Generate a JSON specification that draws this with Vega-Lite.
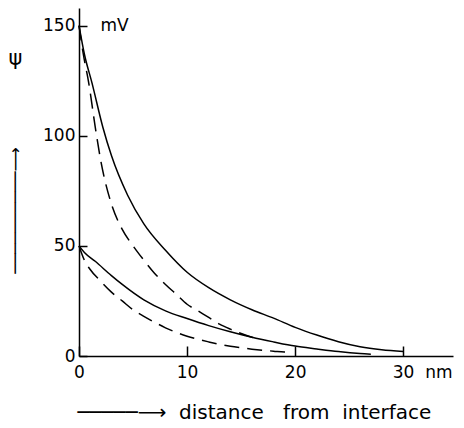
{
  "$schema": "https://vega.github.io/schema/vega-lite/v6.json",
  "width": 374,
  "height": 348,
  "autosize": "none",
  "padding": {"left": 79, "top": 8, "right": 11, "bottom": 72},
  "config": {"view": {"stroke": null}, "font": "DejaVu Sans"},
  "data": {"values": [
    {"curve": "S150", "style": "solid", "x": 0, "psi": 150},
    {"curve": "S150", "style": "solid", "x": 0.5, "psi": 137},
    {"curve": "S150", "style": "solid", "x": 1.2, "psi": 124},
    {"curve": "S150", "style": "solid", "x": 2.2, "psi": 104},
    {"curve": "S150", "style": "solid", "x": 3, "psi": 91},
    {"curve": "S150", "style": "solid", "x": 4.5, "psi": 73},
    {"curve": "S150", "style": "solid", "x": 6, "psi": 60},
    {"curve": "S150", "style": "solid", "x": 8, "psi": 48},
    {"curve": "S150", "style": "solid", "x": 10, "psi": 38},
    {"curve": "S150", "style": "solid", "x": 12, "psi": 31},
    {"curve": "S150", "style": "solid", "x": 14, "psi": 25.5},
    {"curve": "S150", "style": "solid", "x": 16, "psi": 21},
    {"curve": "S150", "style": "solid", "x": 18, "psi": 17.2},
    {"curve": "S150", "style": "solid", "x": 20, "psi": 13},
    {"curve": "S150", "style": "solid", "x": 22, "psi": 9.5},
    {"curve": "S150", "style": "solid", "x": 24, "psi": 6.5},
    {"curve": "S150", "style": "solid", "x": 26, "psi": 4.2},
    {"curve": "S150", "style": "solid", "x": 28, "psi": 2.8},
    {"curve": "S150", "style": "solid", "x": 30, "psi": 2.0},
    {"curve": "S50", "style": "solid", "x": 0, "psi": 50},
    {"curve": "S50", "style": "solid", "x": 0.5, "psi": 47},
    {"curve": "S50", "style": "solid", "x": 1.5, "psi": 43},
    {"curve": "S50", "style": "solid", "x": 3, "psi": 36.5},
    {"curve": "S50", "style": "solid", "x": 4, "psi": 32.5},
    {"curve": "S50", "style": "solid", "x": 6, "psi": 25.5},
    {"curve": "S50", "style": "solid", "x": 8, "psi": 20.5},
    {"curve": "S50", "style": "solid", "x": 10, "psi": 17},
    {"curve": "S50", "style": "solid", "x": 12, "psi": 13.8},
    {"curve": "S50", "style": "solid", "x": 14, "psi": 11},
    {"curve": "S50", "style": "solid", "x": 16, "psi": 8.5},
    {"curve": "S50", "style": "solid", "x": 18, "psi": 6.4},
    {"curve": "S50", "style": "solid", "x": 20, "psi": 4.5},
    {"curve": "S50", "style": "solid", "x": 22, "psi": 3.2},
    {"curve": "S50", "style": "solid", "x": 24, "psi": 2.0},
    {"curve": "S50", "style": "solid", "x": 26, "psi": 1.1},
    {"curve": "S50", "style": "solid", "x": 27, "psi": 0.8},
    {"curve": "D150", "style": "dashed", "x": 0, "psi": 150},
    {"curve": "D150", "style": "dashed", "x": 0.4, "psi": 137},
    {"curve": "D150", "style": "dashed", "x": 0.9, "psi": 124},
    {"curve": "D150", "style": "dashed", "x": 1.5, "psi": 104},
    {"curve": "D150", "style": "dashed", "x": 2, "psi": 89},
    {"curve": "D150", "style": "dashed", "x": 3, "psi": 69},
    {"curve": "D150", "style": "dashed", "x": 4, "psi": 57.5},
    {"curve": "D150", "style": "dashed", "x": 5, "psi": 50},
    {"curve": "D150", "style": "dashed", "x": 6, "psi": 43.5},
    {"curve": "D150", "style": "dashed", "x": 7, "psi": 37.5},
    {"curve": "D150", "style": "dashed", "x": 8, "psi": 32.5},
    {"curve": "D150", "style": "dashed", "x": 9, "psi": 28},
    {"curve": "D150", "style": "dashed", "x": 10, "psi": 23.5},
    {"curve": "D150", "style": "dashed", "x": 11, "psi": 20.5},
    {"curve": "D150", "style": "dashed", "x": 12, "psi": 17.5},
    {"curve": "D150", "style": "dashed", "x": 13, "psi": 14.5},
    {"curve": "D150", "style": "dashed", "x": 14, "psi": 12.2},
    {"curve": "D150", "style": "dashed", "x": 15, "psi": 10.2},
    {"curve": "D150", "style": "dashed", "x": 16, "psi": 8.5},
    {"curve": "D150", "style": "dashed", "x": 16.8, "psi": 7.5},
    {"curve": "D50", "style": "dashed", "x": 0, "psi": 50},
    {"curve": "D50", "style": "dashed", "x": 0.5, "psi": 43.5},
    {"curve": "D50", "style": "dashed", "x": 1, "psi": 39.5},
    {"curve": "D50", "style": "dashed", "x": 2, "psi": 34},
    {"curve": "D50", "style": "dashed", "x": 3, "psi": 29},
    {"curve": "D50", "style": "dashed", "x": 4, "psi": 25},
    {"curve": "D50", "style": "dashed", "x": 5, "psi": 21},
    {"curve": "D50", "style": "dashed", "x": 6, "psi": 18},
    {"curve": "D50", "style": "dashed", "x": 7, "psi": 15.3},
    {"curve": "D50", "style": "dashed", "x": 8, "psi": 12.8},
    {"curve": "D50", "style": "dashed", "x": 9, "psi": 10.7},
    {"curve": "D50", "style": "dashed", "x": 10, "psi": 9},
    {"curve": "D50", "style": "dashed", "x": 11, "psi": 7.6},
    {"curve": "D50", "style": "dashed", "x": 12, "psi": 6.4},
    {"curve": "D50", "style": "dashed", "x": 13, "psi": 5.3},
    {"curve": "D50", "style": "dashed", "x": 14, "psi": 4.4},
    {"curve": "D50", "style": "dashed", "x": 15, "psi": 3.7},
    {"curve": "D50", "style": "dashed", "x": 16, "psi": 3.1},
    {"curve": "D50", "style": "dashed", "x": 17, "psi": 2.6},
    {"curve": "D50", "style": "dashed", "x": 18, "psi": 2.2},
    {"curve": "D50", "style": "dashed", "x": 19, "psi": 1.8},
    {"curve": "D50", "style": "dashed", "x": 19.8, "psi": 1.6}
  ]},
  "layer": [
    {
      "transform": [{"filter": "datum.style == 'solid'"}],
      "mark": {"type": "line", "color": "black", "strokeWidth": 1.5, "interpolate": "monotone"},
      "encoding": {
        "x": {
          "field": "x", "type": "quantitative",
          "scale": {"domain": [0, 34.6], "nice": false},
          "axis": {
            "values": [0, 10, 20, 30],
            "tickSize": -10, "tickColor": "black", "tickWidth": 1.5,
            "domainColor": "black", "domainWidth": 1.5, "grid": false,
            "labelFontSize": 17, "labelColor": "black", "labelPadding": 18,
            "labelFlush": false,
            "labelExpr": "datum.value == 30 ? '30\u00a0\u00a0nm' : datum.label",
            "labelAlign": {"condition": {"test": "datum.value == 30", "value": "left"}, "value": "center"},
            "labelOffset": {"condition": {"test": "datum.value == 30", "value": -11}, "value": 0},
            "title": "─────⟶\u00a0\u00a0distance\u00a0\u00a0\u00a0from\u00a0\u00a0interface",
            "titleFontSize": 20, "titleFontWeight": "normal", "titleColor": "black",
            "titleX": -2, "titleY": 56, "titleAlign": "left", "titleBaseline": "middle"
          }
        },
        "y": {
          "field": "psi", "type": "quantitative",
          "scale": {"domain": [0, 158], "nice": false},
          "axis": {
            "values": [0, 50, 100, 150],
            "tickSize": -8, "tickColor": "black", "tickWidth": 1.5,
            "domainColor": "black", "domainWidth": 1.5, "grid": false,
            "labelFontSize": 17, "labelColor": "black", "labelPadding": 12,
            "labelFlush": false,
            "title": "ψ", "titleAngle": 0, "titleFontSize": 21, "titleFontWeight": "normal",
            "titleColor": "black", "titleX": -64, "titleY": 50,
            "titleAlign": "center", "titleBaseline": "middle"
          }
        },
        "detail": {"field": "curve"}
      }
    },
    {
      "transform": [{"filter": "datum.style == 'dashed'"}],
      "mark": {"type": "line", "color": "black", "strokeWidth": 1.5, "strokeDash": [15, 8], "interpolate": "monotone"},
      "encoding": {
        "x": {"field": "x", "type": "quantitative"},
        "y": {
          "field": "psi", "type": "quantitative",
          "axis": {
            "orient": "right", "offset": -374,
            "values": [150], "labelExpr": "'mV'",
            "ticks": false, "domain": false, "grid": false,
            "labelFontSize": 17, "labelColor": "black", "labelPadding": 21,
            "labelAlign": "left",
            "title": "──────────⟶", "titleAngle": -90, "titleFontSize": 17,
            "titleFontWeight": "normal", "titleColor": "black",
            "titleX": -64, "titleY": 202, "titleAlign": "center", "titleBaseline": "middle"
          }
        },
        "detail": {"field": "curve"}
      }
    }
  ],
  "resolve": {"axis": {"y": "independent"}}
}
